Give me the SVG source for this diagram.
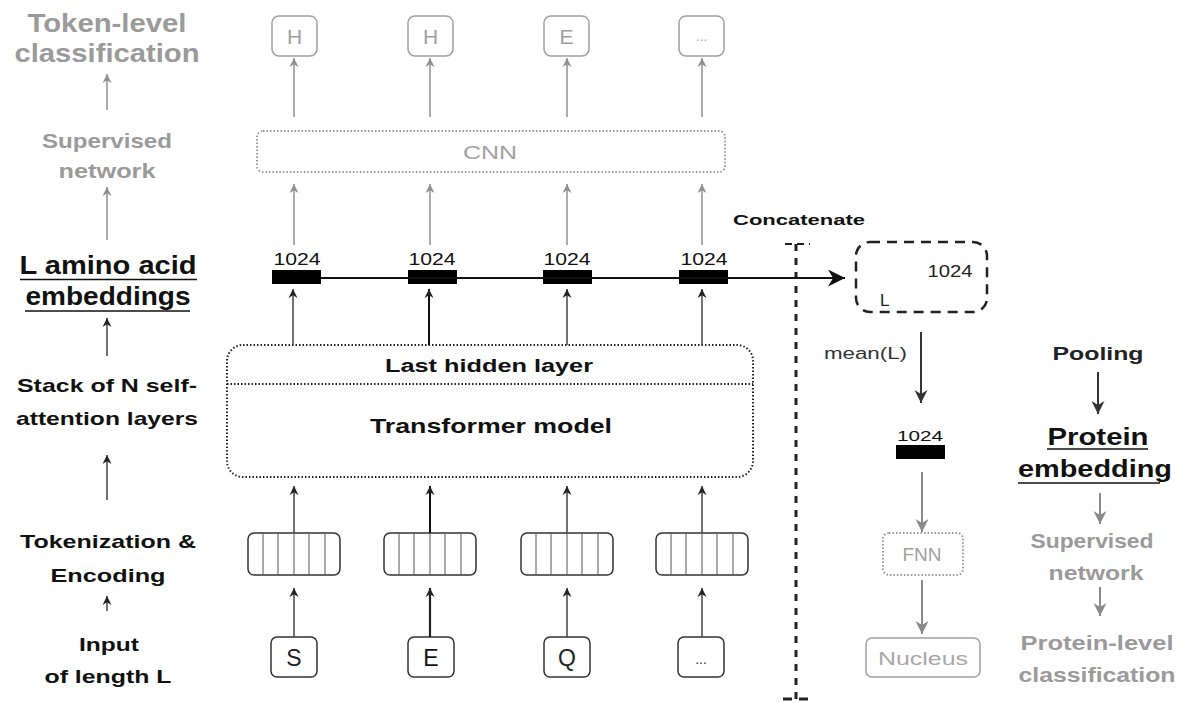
<svg xmlns="http://www.w3.org/2000/svg" width="1179" height="703" viewBox="0 0 1179 703">
<style>
text{font-family:"Liberation Sans",Arial,sans-serif}
.lbl{font-weight:bold;text-anchor:middle}
.g{fill:#9a9a9a}
.k{fill:#111}
.num{font-size:16px;text-anchor:middle;fill:#111}
.gl{stroke:#8f8f8f;stroke-width:1.5;fill:none}
.kl{stroke:#444;stroke-width:1.5;fill:none}
.tok{fill:#fff;stroke:#333;stroke-width:1.5}
.cell{stroke:#555;stroke-width:1}
.out{fill:#fff;stroke:#a0a0a0;stroke-width:1.5}
</style>
<defs>
<marker id="ak" viewBox="0 0 10 10" refX="10" refY="5" markerWidth="9" markerHeight="10" markerUnits="userSpaceOnUse" orient="auto"><path d="M0,0 L10,5 L0,10 L3,5 z" fill="#222"/></marker>
<marker id="ag" viewBox="0 0 10 10" refX="10" refY="5" markerWidth="9" markerHeight="10" markerUnits="userSpaceOnUse" orient="auto"><path d="M0,0 L10,5 L0,10 L3,5 z" fill="#8f8f8f"/></marker>
<marker id="akb" viewBox="0 0 10 10" refX="10" refY="5" markerWidth="13" markerHeight="14" markerUnits="userSpaceOnUse" orient="auto"><path d="M0,0 L10,5 L0,10 L3,5 z" fill="#333"/></marker>
<marker id="agb" viewBox="0 0 10 10" refX="10" refY="5" markerWidth="13" markerHeight="14" markerUnits="userSpaceOnUse" orient="auto"><path d="M0,0 L10,5 L0,10 L3,5 z" fill="#8a8a8a"/></marker>
<marker id="abig" viewBox="0 0 10 10" refX="10" refY="5" markerWidth="22" markerHeight="17" markerUnits="userSpaceOnUse" orient="auto"><path d="M0,0 L10,5 L0,10 L3,5 z" fill="#111"/></marker>
</defs>

<!-- Left column labels -->
<g id="left-labels">
<text class="lbl g" x="107" y="32" font-size="25" textLength="159" lengthAdjust="spacingAndGlyphs">Token-level</text>
<text class="lbl g" x="107" y="62" font-size="25" textLength="185" lengthAdjust="spacingAndGlyphs">classification</text>
<text class="lbl g" x="107" y="148" font-size="21" textLength="130" lengthAdjust="spacingAndGlyphs">Supervised</text>
<text class="lbl g" x="107" y="178" font-size="21" textLength="97" lengthAdjust="spacingAndGlyphs">network</text>
<text class="lbl k" x="108" y="274" font-size="25" textLength="177" lengthAdjust="spacingAndGlyphs">L amino acid</text>
<text class="lbl k" x="108" y="305" font-size="25" textLength="165" lengthAdjust="spacingAndGlyphs">embeddings</text>
<line x1="20" y1="279.5" x2="197" y2="279.5" stroke="#111" stroke-width="1.5"/>
<line x1="25" y1="311" x2="190" y2="311" stroke="#111" stroke-width="1.5"/>
<text class="lbl k" x="107" y="392" font-size="19" textLength="180" lengthAdjust="spacingAndGlyphs">Stack of N self-</text>
<text class="lbl k" x="107" y="425" font-size="19" textLength="182" lengthAdjust="spacingAndGlyphs">attention layers</text>
<text class="lbl k" x="108" y="548" font-size="19" textLength="176" lengthAdjust="spacingAndGlyphs">Tokenization &amp;</text>
<text class="lbl k" x="108" y="582" font-size="19" textLength="115" lengthAdjust="spacingAndGlyphs">Encoding</text>
<text class="lbl k" x="109" y="651" font-size="19" textLength="60" lengthAdjust="spacingAndGlyphs">Input</text>
<text class="lbl k" x="108" y="683" font-size="19" textLength="127" lengthAdjust="spacingAndGlyphs">of length L</text>
</g>

<!-- Token-level outputs -->
<g id="out-H1"><rect class="out" x="272" y="16" width="45" height="40" rx="7"/><text x="294.5" y="44" font-size="21" text-anchor="middle" fill="#a0a0a0">H</text></g>
<g id="out-H2"><rect class="out" x="408" y="16" width="45" height="40" rx="7"/><text x="430.5" y="44" font-size="21" text-anchor="middle" fill="#a0a0a0">H</text></g>
<g id="out-E"><rect class="out" x="544" y="16" width="45" height="40" rx="7"/><text x="566.5" y="44" font-size="21" text-anchor="middle" fill="#a0a0a0">E</text></g>
<g id="out-dots"><rect class="out" x="679" y="16" width="45" height="40" rx="7"/><text x="701.5" y="41" font-size="14" text-anchor="middle" fill="#b0b0b0">...</text></g>

<!-- CNN -->
<g id="cnn"><rect x="257" y="131" width="468" height="41" rx="6" fill="#fff" stroke="#999" stroke-width="2" stroke-dasharray="1.5 2"/>
<text x="490" y="159" font-size="19" text-anchor="middle" fill="#a0a0a0" textLength="54" lengthAdjust="spacingAndGlyphs">CNN</text></g>

<!-- Embedding vectors -->
<g id="emb1"><text class="num" x="297" y="265" textLength="47" lengthAdjust="spacingAndGlyphs">1024</text><rect x="272" y="270" width="49" height="14" fill="#000"/></g>
<g id="emb2"><text class="num" x="432" y="265" textLength="47" lengthAdjust="spacingAndGlyphs">1024</text><rect x="408" y="270" width="49" height="14" fill="#000"/></g>
<g id="emb3"><text class="num" x="567" y="265" textLength="47" lengthAdjust="spacingAndGlyphs">1024</text><rect x="543" y="270" width="49" height="14" fill="#000"/></g>
<g id="emb4"><text class="num" x="704" y="265" textLength="47" lengthAdjust="spacingAndGlyphs">1024</text><rect x="679" y="270" width="49" height="14" fill="#000"/></g>

<!-- Transformer -->
<g id="transformer">
<rect x="227" y="345" width="526" height="132" rx="16" fill="none" stroke="#222" stroke-width="2" stroke-dasharray="1.5 2"/>
<line x1="227" y1="384" x2="753" y2="384" stroke="#222" stroke-width="2" stroke-dasharray="1.5 2"/>
<text class="lbl k" x="489" y="372" font-size="18" textLength="208" lengthAdjust="spacingAndGlyphs">Last hidden layer</text>
<text class="lbl k" x="491" y="433" font-size="21" textLength="242" lengthAdjust="spacingAndGlyphs">Transformer model</text>
</g>

<!-- Token encoding vectors -->
<g id="vec1"><rect class="tok" x="248" y="533" width="92" height="42" rx="6"/>
<path class="cell" d="M263,533V575M278,533V575M294,533V575M309,533V575M325,533V575"/></g>
<g id="vec2"><rect class="tok" x="384" y="533" width="92" height="42" rx="6"/>
<path class="cell" d="M399,533V575M414,533V575M430,533V575M445,533V575M461,533V575"/></g>
<g id="vec3"><rect class="tok" x="521" y="533" width="92" height="42" rx="6"/>
<path class="cell" d="M536,533V575M551,533V575M567,533V575M582,533V575M598,533V575"/></g>
<g id="vec4"><rect class="tok" x="656" y="533" width="92" height="42" rx="6"/>
<path class="cell" d="M671,533V575M686,533V575M702,533V575M717,533V575M733,533V575"/></g>

<!-- Input tokens -->
<g id="in-S"><rect class="tok" x="271" y="637" width="46" height="40" rx="6"/><text x="294" y="666" font-size="23" text-anchor="middle" fill="#222">S</text></g>
<g id="in-E"><rect class="tok" x="408" y="637" width="46" height="40" rx="6"/><text x="431" y="666" font-size="23" text-anchor="middle" fill="#111">E</text></g>
<g id="in-Q"><rect class="tok" x="544" y="637" width="46" height="40" rx="6"/><text x="567" y="666" font-size="23" text-anchor="middle" fill="#222">Q</text></g>
<g id="in-dots"><rect class="tok" x="678" y="637" width="46" height="40" rx="6"/><text x="701" y="664" font-size="14" text-anchor="middle" fill="#333">...</text></g>

<!-- Concatenate -->
<g id="concat">
<text x="733" y="225" font-size="15" font-weight="bold" fill="#111" textLength="132" lengthAdjust="spacingAndGlyphs">Concatenate</text>
<line x1="796" y1="244" x2="796" y2="699" stroke="#222" stroke-width="3" stroke-dasharray="7 7"/>
<line x1="785" y1="244" x2="810" y2="244" stroke="#222" stroke-width="2" stroke-dasharray="7 5"/>
<line x1="783" y1="699" x2="812" y2="699" stroke="#222" stroke-width="3" stroke-dasharray="9 7"/>
</g>

<!-- Concatenated matrix -->
<g id="matrix"><rect x="856" y="242" width="131" height="70" rx="14" fill="none" stroke="#222" stroke-width="2.5" stroke-dasharray="10 7"/>
<text x="950" y="277" font-size="17" text-anchor="middle" fill="#222" textLength="45" lengthAdjust="spacingAndGlyphs">1024</text>
<text x="880" y="306" font-size="17" fill="#222">L</text></g>

<!-- Protein-level path -->
<g id="mean-label"><text x="824" y="359" font-size="16" fill="#333" textLength="83" lengthAdjust="spacingAndGlyphs">mean(L)</text></g>
<g id="protein-vec"><text x="920" y="441" font-size="14" text-anchor="middle" fill="#111" textLength="46" lengthAdjust="spacingAndGlyphs">1024</text><rect x="896" y="445" width="49" height="14" fill="#000"/></g>
<g id="fnn"><rect x="883" y="533" width="80" height="42" rx="6" fill="#fff" stroke="#999" stroke-width="2" stroke-dasharray="1.5 2"/>
<text x="922" y="561" font-size="19" text-anchor="middle" fill="#a0a0a0">FNN</text></g>
<g id="nucleus"><rect class="out" x="866" y="638" width="114" height="39" rx="6"/>
<text x="923" y="665" font-size="18" text-anchor="middle" fill="#a8a8a8" textLength="90" lengthAdjust="spacingAndGlyphs">Nucleus</text></g>

<!-- Right column labels -->
<g id="right-labels">
<text class="lbl" x="1098" y="360" font-size="19" fill="#222" textLength="91" lengthAdjust="spacingAndGlyphs">Pooling</text>
<text class="lbl k" x="1098" y="445" font-size="24" textLength="101" lengthAdjust="spacingAndGlyphs">Protein</text>
<line x1="1047" y1="449" x2="1148" y2="449" stroke="#111" stroke-width="1.5"/>
<text class="lbl k" x="1095" y="477" font-size="24" textLength="154" lengthAdjust="spacingAndGlyphs">embedding</text>
<line x1="1018" y1="483" x2="1160" y2="483" stroke="#111" stroke-width="1.5"/>
<text class="lbl g" x="1092" y="548" font-size="20" textLength="123" lengthAdjust="spacingAndGlyphs">Supervised</text>
<text class="lbl g" x="1096" y="580" font-size="20" textLength="95" lengthAdjust="spacingAndGlyphs">network</text>
<text class="lbl g" x="1097" y="650" font-size="20" textLength="153" lengthAdjust="spacingAndGlyphs">Protein-level</text>
<text class="lbl g" x="1097" y="682" font-size="20" textLength="157" lengthAdjust="spacingAndGlyphs">classification</text>
</g>

<!-- Connectors -->
<g id="connectors">
<line class="gl" x1="107" y1="110" x2="107" y2="74" marker-end="url(#ag)"/>
<line class="gl" x1="107" y1="240" x2="107" y2="187" marker-end="url(#ag)"/>
<line class="kl" x1="107" y1="356" x2="107" y2="318" marker-end="url(#ak)"/>
<line class="kl" x1="107" y1="500" x2="107" y2="455" marker-end="url(#ak)"/>
<line class="kl" x1="107" y1="611" x2="107" y2="596" marker-end="url(#ak)"/>
<line class="gl" x1="294" y1="117" x2="294" y2="58" marker-end="url(#ag)"/>
<line class="gl" x1="430" y1="117" x2="430" y2="58" marker-end="url(#ag)"/>
<line class="gl" x1="567" y1="117" x2="567" y2="58" marker-end="url(#ag)"/>
<line class="gl" x1="702" y1="117" x2="702" y2="58" marker-end="url(#ag)"/>
<line class="gl" x1="294" y1="245" x2="294" y2="184" marker-end="url(#ag)"/>
<line class="gl" x1="430" y1="245" x2="430" y2="184" marker-end="url(#ag)"/>
<line class="gl" x1="567" y1="245" x2="567" y2="184" marker-end="url(#ag)"/>
<line class="gl" x1="702" y1="245" x2="702" y2="184" marker-end="url(#ag)"/>
<line x1="321" y1="278" x2="845" y2="278" stroke="#111" stroke-width="2" marker-end="url(#abig)"/>
<line class="kl" x1="293" y1="345" x2="293" y2="289" marker-end="url(#ak)"/>
<line x1="429" y1="345" x2="429" y2="289" stroke="#111" stroke-width="2" marker-end="url(#ak)"/>
<line class="kl" x1="567" y1="345" x2="567" y2="289" marker-end="url(#ak)"/>
<line class="kl" x1="702" y1="345" x2="702" y2="289" marker-end="url(#ak)"/>
<line class="kl" x1="294" y1="533" x2="294" y2="486" marker-end="url(#ak)"/>
<line x1="430" y1="533" x2="430" y2="486" stroke="#111" stroke-width="2" marker-end="url(#ak)"/>
<line class="kl" x1="567" y1="533" x2="567" y2="486" marker-end="url(#ak)"/>
<line class="kl" x1="702" y1="533" x2="702" y2="486" marker-end="url(#ak)"/>
<line class="kl" x1="294" y1="637" x2="294" y2="588" marker-end="url(#ak)"/>
<line x1="430" y1="637" x2="430" y2="588" stroke="#222" stroke-width="2.2" marker-end="url(#ak)"/>
<line class="kl" x1="567" y1="637" x2="567" y2="588" marker-end="url(#ak)"/>
<line class="kl" x1="702" y1="637" x2="702" y2="588" marker-end="url(#ak)"/>
<line x1="921" y1="332" x2="921" y2="403" stroke="#333" stroke-width="2" marker-end="url(#akb)"/>
<line x1="922" y1="472" x2="922" y2="532" stroke="#8a8a8a" stroke-width="2" marker-end="url(#agb)"/>
<line x1="922" y1="580" x2="922" y2="634" stroke="#8a8a8a" stroke-width="2" marker-end="url(#agb)"/>
<line x1="1098" y1="372" x2="1098" y2="414" stroke="#333" stroke-width="2" marker-end="url(#akb)"/>
<line x1="1100" y1="493" x2="1100" y2="524" stroke="#8a8a8a" stroke-width="2" marker-end="url(#agb)"/>
<line x1="1100" y1="587" x2="1100" y2="616" stroke="#8a8a8a" stroke-width="2" marker-end="url(#agb)"/>
</g>
</svg>
